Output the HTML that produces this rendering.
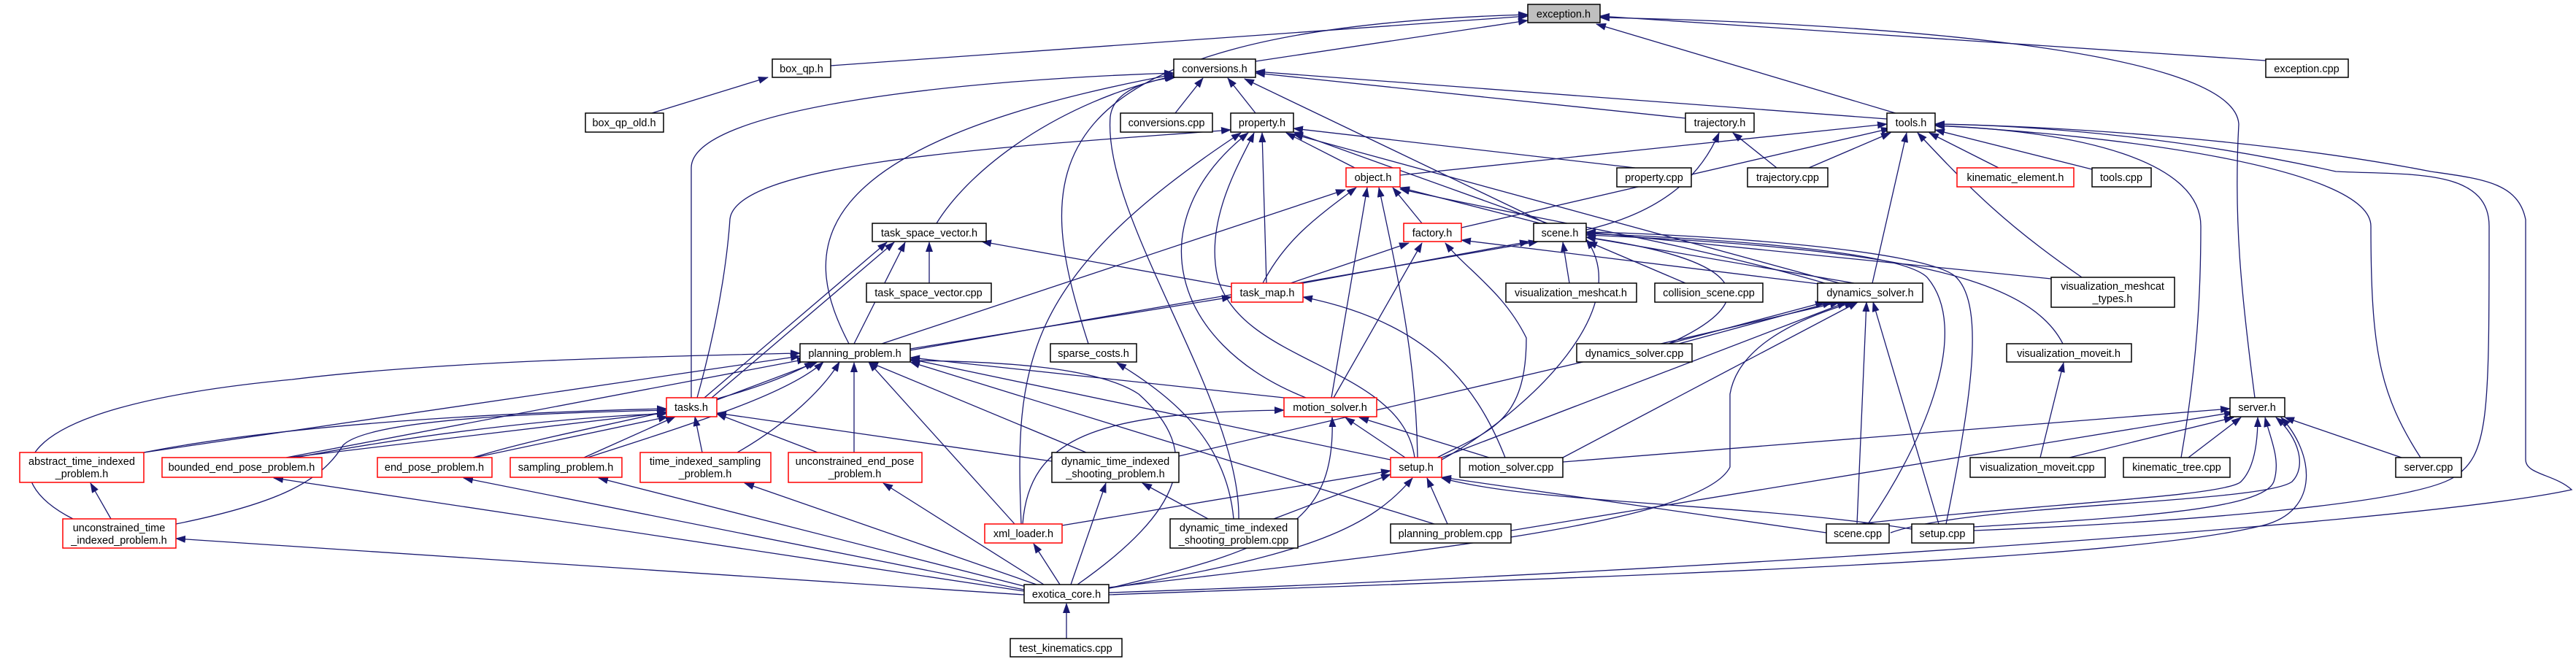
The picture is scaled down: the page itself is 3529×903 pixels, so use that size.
<!DOCTYPE html>
<html><head><meta charset="utf-8"><style>
html,body{margin:0;padding:0;background:#fff;}
svg{display:block;}
text{font-family:"Liberation Sans","DejaVu Sans",sans-serif;font-size:14.5px;fill:#000;}
</style></head><body>
<svg width="3529" height="903" viewBox="0 0 3529 903" xmlns="http://www.w3.org/2000/svg">
<defs><marker id="a" markerWidth="14" markerHeight="10" refX="13" refY="5" orient="auto" markerUnits="userSpaceOnUse"><path d="M0,0 L14,5 L0,10 z" fill="#191970"/></marker></defs>
<g fill="none" stroke="#191970" stroke-width="1.3" marker-end="url(#a)">
<path d="M1138,90 L2093,22"/>
<path d="M1720,84 L2093,28"/>
<path d="M1491,471 C1420,250 1380,40 2093,20"/>
<path d="M2600,156 L2187,33"/>
<path d="M3089,545 C3070,400 3060,300 3067,170 C3060,60 2500,30 2192,24"/>
<path d="M3104,83 L2192,22"/>
<path d="M947,545 L947,230 C947,150 1300,110 1608,100"/>
<path d="M1163,471 C1100,350 1080,200 1608,102"/>
<path d="M1283,306 C1330,230 1450,140 1608,104"/>
<path d="M1697,711 C1700,550 1510,300 1521,160 C1525,125 1570,110 1610,106"/>
<path d="M1610,155 L1648,107"/>
<path d="M1720,155 L1682,107"/>
<path d="M2118,306 L1705,108"/>
<path d="M2309,162 L1720,100"/>
<path d="M2585,163 L1720,98"/>
<path d="M955,545 C990,420 998,330 1000,300 C1010,220 1400,200 1686,178"/>
<path d="M1856,230 L1762,182"/>
<path d="M1735,388 L1729,182"/>
<path d="M1789,545 C1600,470 1560,300 1710,182"/>
<path d="M1399,718 C1390,500 1400,380 1700,182"/>
<path d="M1938,627 C1920,500 1700,500 1668,380 C1650,300 1700,220 1718,182"/>
<path d="M2240,230 L1772,176"/>
<path d="M2120,306 L1772,181"/>
<path d="M2520,388 L1772,184"/>
<path d="M1208,471 L1843,260"/>
<path d="M1730,388 C1760,330 1800,300 1858,257"/>
<path d="M1824,545 L1873,257"/>
<path d="M1942,627 C1940,500 1920,400 1889,257"/>
<path d="M1948,306 L1908,257"/>
<path d="M2110,306 L1918,257"/>
<path d="M2500,388 C2300,330 2100,300 1918,259"/>
<path d="M1768,388 L1930,333"/>
<path d="M1827,545 L1948,333"/>
<path d="M1969,627 C2040,590 2091,580 2091,463 C2060,400 2010,370 1980,333"/>
<path d="M2500,390 L2002,329"/>
<path d="M1785,388 L2095,331"/>
<path d="M1247,480 L2107,331"/>
<path d="M2150,388 L2141,332"/>
<path d="M2309,388 L2175,331"/>
<path d="M2286,471 C2400,420 2420,360 2173,325"/>
<path d="M2559,718 C2640,600 2700,450 2640,380 C2600,340 2300,325 2173,320"/>
<path d="M2666,718 C2700,550 2720,420 2680,380 C2640,340 2300,320 2173,318"/>
<path d="M2810,382 L2173,318"/>
<path d="M2826,471 C2780,380 2600,340 2173,322"/>
<path d="M2540,388 L2173,325"/>
<path d="M1975,630 C2100,560 2240,420 2173,328"/>
<path d="M2173,315 C2280,290 2330,240 2355,182"/>
<path d="M2434,230 L2374,182"/>
<path d="M1918,240 L2585,170"/>
<path d="M2002,312 L2590,176"/>
<path d="M2478,230 L2590,182"/>
<path d="M2738,230 L2643,182"/>
<path d="M2866,232 L2651,178"/>
<path d="M2565,388 L2612,182"/>
<path d="M2852,380 C2750,310 2700,260 2627,182"/>
<path d="M2988,627 C3010,500 3015,400 3015,310 C3015,220 2850,180 2651,172"/>
<path d="M3316,627 C3260,540 3248,480 3248,310 C3248,230 2900,185 2651,172"/>
<path d="M2704,727 C3000,715 3300,690 3360,655 C3410,625 3410,570 3410,310 C3410,230 3300,240 3200,235 C3000,190 2800,172 2651,170"/>
<path d="M1519,812 C2200,790 3300,720 3523,671 C3500,650 3460,650 3460,630 L3460,301 C3450,250 3400,245 3330,235 C3100,190 2800,172 2651,170"/>
<path d="M2286,471 L2500,414"/>
<path d="M2300,471 L2510,414"/>
<path d="M1615,625 L2520,414"/>
<path d="M1975,627 L2530,414"/>
<path d="M2141,627 L2545,414"/>
<path d="M1519,805 C1900,760 2330,720 2370,640 L2370,540 C2380,480 2450,440 2540,414"/>
<path d="M2544,718 L2557,414"/>
<path d="M2656,718 L2566,414"/>
<path d="M1273,388 L1273,332"/>
<path d="M1170,471 L1240,332"/>
<path d="M975,545 L1225,332"/>
<path d="M965,545 L1215,332"/>
<path d="M1687,393 L1345,331"/>
<path d="M1247,478 L1687,407"/>
<path d="M2062,627 C2020,520 1950,440 1785,407"/>
<path d="M982,548 L1120,496"/>
<path d="M197,620 L1096,488"/>
<path d="M100,711 C0,660 -20,560 400,520 C600,495 900,488 1096,484"/>
<path d="M392,627 L1105,492"/>
<path d="M648,627 C800,580 1000,560 1115,496"/>
<path d="M805,627 C950,580 1080,540 1128,496"/>
<path d="M1010,620 C1080,580 1130,530 1150,496"/>
<path d="M1170,620 L1170,497"/>
<path d="M1488,620 L1190,496"/>
<path d="M1390,718 L1190,496"/>
<path d="M1759,545 L1247,490"/>
<path d="M1905,630 L1247,492"/>
<path d="M1965,718 L1247,496"/>
<path d="M1476,801 C1620,700 1650,620 1560,540 C1500,500 1350,495 1247,494"/>
<path d="M197,620 C400,580 700,565 913,560"/>
<path d="M395,627 L913,565"/>
<path d="M405,627 C600,590 800,570 913,567"/>
<path d="M650,627 L915,571"/>
<path d="M800,627 L925,571"/>
<path d="M962,620 L952,571"/>
<path d="M1120,620 L982,567"/>
<path d="M1441,632 L982,566"/>
<path d="M241,718 C380,690 440,660 470,610 C510,570 800,565 913,562"/>
<path d="M152,711 L124,662"/>
<path d="M893,155 L1052,106"/>
<path d="M1690,711 C1680,600 1600,540 1530,497"/>
<path d="M1655,711 L1565,662"/>
<path d="M1745,711 L1905,650"/>
<path d="M1401,718 C1410,600 1500,565 1759,562"/>
<path d="M1925,627 L1843,572"/>
<path d="M2040,627 L1862,572"/>
<path d="M1520,806 C1750,750 1830,720 1825,572"/>
<path d="M1455,720 L1905,645"/>
<path d="M1983,718 L1955,655"/>
<path d="M2502,730 L1975,654"/>
<path d="M2619,725 C2400,690 2100,690 1975,655"/>
<path d="M1519,806 C1800,760 1880,720 1935,655"/>
<path d="M2141,633 L3055,560"/>
<path d="M2835,627 L3060,572"/>
<path d="M2998,627 L3070,572"/>
<path d="M3290,627 L3130,572"/>
<path d="M2545,718 C2800,690 3050,680 3070,660 C3090,640 3093,600 3093,572"/>
<path d="M2704,722 C2900,710 3100,700 3115,660 C3125,630 3110,600 3103,572"/>
<path d="M2590,730 C2700,690 3100,690 3140,660 C3160,640 3150,600 3118,572"/>
<path d="M1519,815 C2200,790 2900,770 3100,720 C3180,700 3170,620 3125,572"/>
<path d="M2070,727 L3060,565"/>
<path d="M2795,627 L2827,497"/>
<path d="M1461,875 L1461,827"/>
<path d="M1403,815 L241,738"/>
<path d="M1403,810 L375,655"/>
<path d="M1403,808 L635,655"/>
<path d="M1410,805 L820,655"/>
<path d="M1420,801 L1020,662"/>
<path d="M1430,801 L1210,662"/>
<path d="M1452,801 L1416,745"/>
<path d="M1467,801 L1515,662"/>
</g>
<g stroke-width="1.5">
<rect x="2093" y="6" width="99" height="25" fill="#bfbfbf" stroke="#000"/><text x="2142" y="24" text-anchor="middle">exception.h</text>
<rect x="1058" y="81" width="80" height="25" fill="#fff" stroke="#000"/><text x="1098" y="99" text-anchor="middle">box_qp.h</text>
<rect x="1608" y="81" width="112" height="25" fill="#fff" stroke="#000"/><text x="1664" y="99" text-anchor="middle">conversions.h</text>
<rect x="3104" y="81" width="113" height="25" fill="#fff" stroke="#000"/><text x="3160" y="99" text-anchor="middle">exception.cpp</text>
<rect x="802" y="155" width="107" height="26" fill="#fff" stroke="#000"/><text x="855" y="173" text-anchor="middle">box_qp_old.h</text>
<rect x="1535" y="155" width="126" height="26" fill="#fff" stroke="#000"/><text x="1598" y="173" text-anchor="middle">conversions.cpp</text>
<rect x="1686" y="155" width="86" height="26" fill="#fff" stroke="#000"/><text x="1729" y="173" text-anchor="middle">property.h</text>
<rect x="2309" y="155" width="94" height="26" fill="#fff" stroke="#000"/><text x="2356" y="173" text-anchor="middle">trajectory.h</text>
<rect x="2585" y="155" width="66" height="26" fill="#fff" stroke="#000"/><text x="2618" y="173" text-anchor="middle">tools.h</text>
<rect x="1844" y="230" width="74" height="26" fill="#fff" stroke="#f00"/><text x="1881" y="248" text-anchor="middle">object.h</text>
<rect x="2215" y="230" width="102" height="26" fill="#fff" stroke="#000"/><text x="2266" y="248" text-anchor="middle">property.cpp</text>
<rect x="2394" y="230" width="110" height="26" fill="#fff" stroke="#000"/><text x="2449" y="248" text-anchor="middle">trajectory.cpp</text>
<rect x="2681" y="230" width="160" height="26" fill="#fff" stroke="#f00"/><text x="2761" y="248" text-anchor="middle">kinematic_element.h</text>
<rect x="2866" y="230" width="81" height="26" fill="#fff" stroke="#000"/><text x="2906" y="248" text-anchor="middle">tools.cpp</text>
<rect x="1195" y="306" width="156" height="25" fill="#fff" stroke="#000"/><text x="1273" y="324" text-anchor="middle">task_space_vector.h</text>
<rect x="1923" y="306" width="79" height="25" fill="#fff" stroke="#f00"/><text x="1962" y="324" text-anchor="middle">factory.h</text>
<rect x="2101" y="306" width="72" height="25" fill="#fff" stroke="#000"/><text x="2137" y="324" text-anchor="middle">scene.h</text>
<rect x="1187" y="388" width="171" height="26" fill="#fff" stroke="#000"/><text x="1272" y="406" text-anchor="middle">task_space_vector.cpp</text>
<rect x="1687" y="388" width="98" height="26" fill="#fff" stroke="#f00"/><text x="1736" y="406" text-anchor="middle">task_map.h</text>
<rect x="2063" y="388" width="179" height="26" fill="#fff" stroke="#000"/><text x="2152" y="406" text-anchor="middle">visualization_meshcat.h</text>
<rect x="2267" y="388" width="148" height="26" fill="#fff" stroke="#000"/><text x="2341" y="406" text-anchor="middle">collision_scene.cpp</text>
<rect x="2490" y="388" width="144" height="26" fill="#fff" stroke="#000"/><text x="2562" y="406" text-anchor="middle">dynamics_solver.h</text>
<rect x="2810" y="380" width="169" height="41" fill="#fff" stroke="#000"/><text x="2894" y="397" text-anchor="middle">visualization_meshcat</text><text x="2894" y="414" text-anchor="middle">_types.h</text>
<rect x="1096" y="471" width="151" height="25" fill="#fff" stroke="#000"/><text x="1171" y="489" text-anchor="middle">planning_problem.h</text>
<rect x="1439" y="471" width="118" height="25" fill="#fff" stroke="#000"/><text x="1498" y="489" text-anchor="middle">sparse_costs.h</text>
<rect x="2160" y="471" width="158" height="25" fill="#fff" stroke="#000"/><text x="2239" y="489" text-anchor="middle">dynamics_solver.cpp</text>
<rect x="2749" y="471" width="171" height="25" fill="#fff" stroke="#000"/><text x="2834" y="489" text-anchor="middle">visualization_moveit.h</text>
<rect x="913" y="545" width="69" height="26" fill="#fff" stroke="#f00"/><text x="947" y="563" text-anchor="middle">tasks.h</text>
<rect x="1759" y="545" width="127" height="26" fill="#fff" stroke="#f00"/><text x="1822" y="563" text-anchor="middle">motion_solver.h</text>
<rect x="3055" y="545" width="75" height="26" fill="#fff" stroke="#000"/><text x="3092" y="563" text-anchor="middle">server.h</text>
<rect x="27" y="620" width="170" height="41" fill="#fff" stroke="#f00"/><text x="112" y="637" text-anchor="middle">abstract_time_indexed</text><text x="112" y="654" text-anchor="middle">_problem.h</text>
<rect x="222" y="627" width="219" height="27" fill="#fff" stroke="#f00"/><text x="331" y="645" text-anchor="middle">bounded_end_pose_problem.h</text>
<rect x="517" y="627" width="157" height="27" fill="#fff" stroke="#f00"/><text x="595" y="645" text-anchor="middle">end_pose_problem.h</text>
<rect x="699" y="627" width="153" height="27" fill="#fff" stroke="#f00"/><text x="775" y="645" text-anchor="middle">sampling_problem.h</text>
<rect x="877" y="620" width="179" height="41" fill="#fff" stroke="#f00"/><text x="966" y="637" text-anchor="middle">time_indexed_sampling</text><text x="966" y="654" text-anchor="middle">_problem.h</text>
<rect x="1080" y="620" width="183" height="41" fill="#fff" stroke="#f00"/><text x="1171" y="637" text-anchor="middle">unconstrained_end_pose</text><text x="1171" y="654" text-anchor="middle">_problem.h</text>
<rect x="1441" y="620" width="174" height="41" fill="#fff" stroke="#000"/><text x="1528" y="637" text-anchor="middle">dynamic_time_indexed</text><text x="1528" y="654" text-anchor="middle">_shooting_problem.h</text>
<rect x="1905" y="627" width="70" height="27" fill="#fff" stroke="#f00"/><text x="1940" y="645" text-anchor="middle">setup.h</text>
<rect x="2000" y="627" width="141" height="27" fill="#fff" stroke="#000"/><text x="2070" y="645" text-anchor="middle">motion_solver.cpp</text>
<rect x="2699" y="627" width="185" height="27" fill="#fff" stroke="#000"/><text x="2791" y="645" text-anchor="middle">visualization_moveit.cpp</text>
<rect x="2909" y="627" width="146" height="27" fill="#fff" stroke="#000"/><text x="2982" y="645" text-anchor="middle">kinematic_tree.cpp</text>
<rect x="3282" y="627" width="90" height="27" fill="#fff" stroke="#000"/><text x="3327" y="645" text-anchor="middle">server.cpp</text>
<rect x="86" y="711" width="155" height="40" fill="#fff" stroke="#f00"/><text x="163" y="728" text-anchor="middle">unconstrained_time</text><text x="163" y="745" text-anchor="middle">_indexed_problem.h</text>
<rect x="1349" y="718" width="106" height="26" fill="#fff" stroke="#f00"/><text x="1402" y="736" text-anchor="middle">xml_loader.h</text>
<rect x="1603" y="711" width="175" height="40" fill="#fff" stroke="#000"/><text x="1690" y="728" text-anchor="middle">dynamic_time_indexed</text><text x="1690" y="745" text-anchor="middle">_shooting_problem.cpp</text>
<rect x="1905" y="718" width="165" height="26" fill="#fff" stroke="#000"/><text x="1987" y="736" text-anchor="middle">planning_problem.cpp</text>
<rect x="2502" y="718" width="86" height="26" fill="#fff" stroke="#000"/><text x="2545" y="736" text-anchor="middle">scene.cpp</text>
<rect x="2619" y="718" width="85" height="26" fill="#fff" stroke="#000"/><text x="2661" y="736" text-anchor="middle">setup.cpp</text>
<rect x="1403" y="801" width="116" height="25" fill="#fff" stroke="#000"/><text x="1461" y="819" text-anchor="middle">exotica_core.h</text>
<rect x="1384" y="875" width="153" height="25" fill="#fff" stroke="#000"/><text x="1460" y="893" text-anchor="middle">test_kinematics.cpp</text>
</g>
</svg>
</body></html>
